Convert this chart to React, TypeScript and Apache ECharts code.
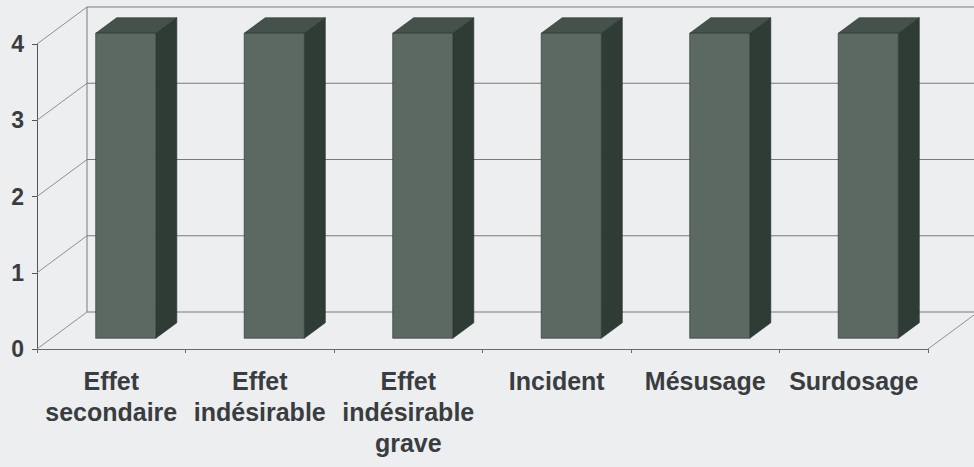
import React, { useEffect, useRef } from "react";
import * as echarts from "echarts";

const CATEGORIES = [
  "Effet\nsecondaire",
  "Effet\nindésirable",
  "Effet\nindésirable\ngrave",
  "Incident",
  "Mésusage",
  "Surdosage",
];
const VALUES = [4, 4, 4, 4, 4, 4];
const Y_TICKS = [0, 1, 2, 3, 4];

const DX = 50;
const DY = -37;
const F0 = 0.29;
const F1 = 0.71;
const BAR_FRAC = 0.405;

export default function App() {
  const ref = useRef<HTMLDivElement>(null);
  useEffect(() => {
    if (!ref.current) return;
    const chart = echarts.init(ref.current, null, { renderer: "svg" });
    const font = "'Liberation Sans', Arial, sans-serif";
    const option: any = {
      animation: false,
      backgroundColor: "#eceef0",
      grid: { left: 37, right: 46, top: 44, bottom: 118 },
      xAxis: {
        type: "category",
        data: CATEGORIES,
        axisLine: { show: true, lineStyle: { color: "#6a6a6a", width: 1 } },
        axisTick: { show: true, length: 4, interval: 0, lineStyle: { color: "#6a6a6a" } },
        axisLabel: {
          interval: 0,
          fontFamily: font,
          fontWeight: "bold",
          fontSize: 25,
          lineHeight: 31,
          color: "#3a3d40",
          margin: 16,
        },
        splitLine: { show: false },
      },
      yAxis: {
        type: "value",
        min: 0,
        max: 4,
        interval: 1,
        axisLine: { show: true, lineStyle: { color: "#555", width: 1 } },
        axisTick: { show: true, length: 5, lineStyle: { color: "#555" } },
        axisLabel: {
          fontFamily: font,
          fontWeight: "bold",
          fontSize: 23,
          color: "#3a3d40",
          margin: 13,
        },
        splitLine: { show: false },
      },
      series: [
        {
          type: "custom",
          silent: true,
          clip: false,
          z: 1,
          data: [[0, 0]],
          renderItem: (params: any, api: any) => {
            const cs = params.coordSys;
            const x0 = cs.x;
            const x1 = cs.x + cs.width;
            const children: any[] = [];
            const yBot = api.coord([0, Y_TICKS[0]])[1];
            const yTop = api.coord([0, Y_TICKS[Y_TICKS.length - 1]])[1];
            Y_TICKS.forEach((v) => {
              const y = api.coord([0, v])[1];
              children.push({
                type: "line",
                shape: { x1: x0, y1: y, x2: x0 + DX, y2: y + DY },
                style: { stroke: "#8f8f8f", lineWidth: 1 },
              });
              children.push({
                type: "line",
                shape: { x1: x0 + DX, y1: y + DY, x2: x1 + DX, y2: y + DY },
                style: { stroke: "#7a7a7a", lineWidth: 1 },
              });
            });
            children.push({
              type: "line",
              shape: { x1: x0 + DX, y1: yTop + DY, x2: x0 + DX, y2: yBot + DY },
              style: { stroke: "#7a7a7a", lineWidth: 1 },
            });
            children.push({
              type: "line",
              shape: { x1: x1, y1: yBot, x2: x1 + DX, y2: yBot + DY },
              style: { stroke: "#8f8f8f", lineWidth: 1 },
            });
            return { type: "group", children };
          },
        },
        {
          type: "custom",
          clip: false,
          z: 2,
          data: VALUES.map((v, i) => [i, v]),
          encode: { x: 0, y: 1 },
          renderItem: (params: any, api: any) => {
            const i = api.value(0);
            const v = api.value(1);
            const base = api.coord([i, 0]);
            const top = api.coord([i, v]);
            const cw = api.size([1, 0])[0];
            const bw = cw * BAR_FRAC;
            const cx = base[0] + F0 * DX;
            const xl = cx - bw / 2;
            const xr = cx + bw / 2;
            const yt = top[1] + F0 * DY;
            const yb = base[1] + F0 * DY;
            const ddx = (F1 - F0) * DX;
            const ddy = (F1 - F0) * DY;
            const stroke = "#26312c";
            return {
              type: "group",
              children: [
                {
                  type: "polygon",
                  shape: { points: [[xr, yt], [xr + ddx, yt + ddy], [xr + ddx, yb + ddy], [xr, yb]] },
                  style: { fill: "#2f3c36", stroke, lineWidth: 0.6 },
                },
                {
                  type: "polygon",
                  shape: { points: [[xl, yt], [xr, yt], [xr + ddx, yt + ddy], [xl + ddx, yt + ddy]] },
                  style: { fill: "#45524c", stroke, lineWidth: 0.6 },
                },
                {
                  type: "rect",
                  shape: { x: xl, y: yt, width: bw, height: yb - yt },
                  style: { fill: "#5c6862", stroke, lineWidth: 0.6 },
                },
              ],
            };
          },
        },
      ],
    };
    chart.setOption(option);
    return () => chart.dispose();
  }, []);
  return (
    <div
      ref={ref}
      style={{ position: "fixed", left: 0, top: 0, width: 974, height: 467 }}
    />
  );
}
